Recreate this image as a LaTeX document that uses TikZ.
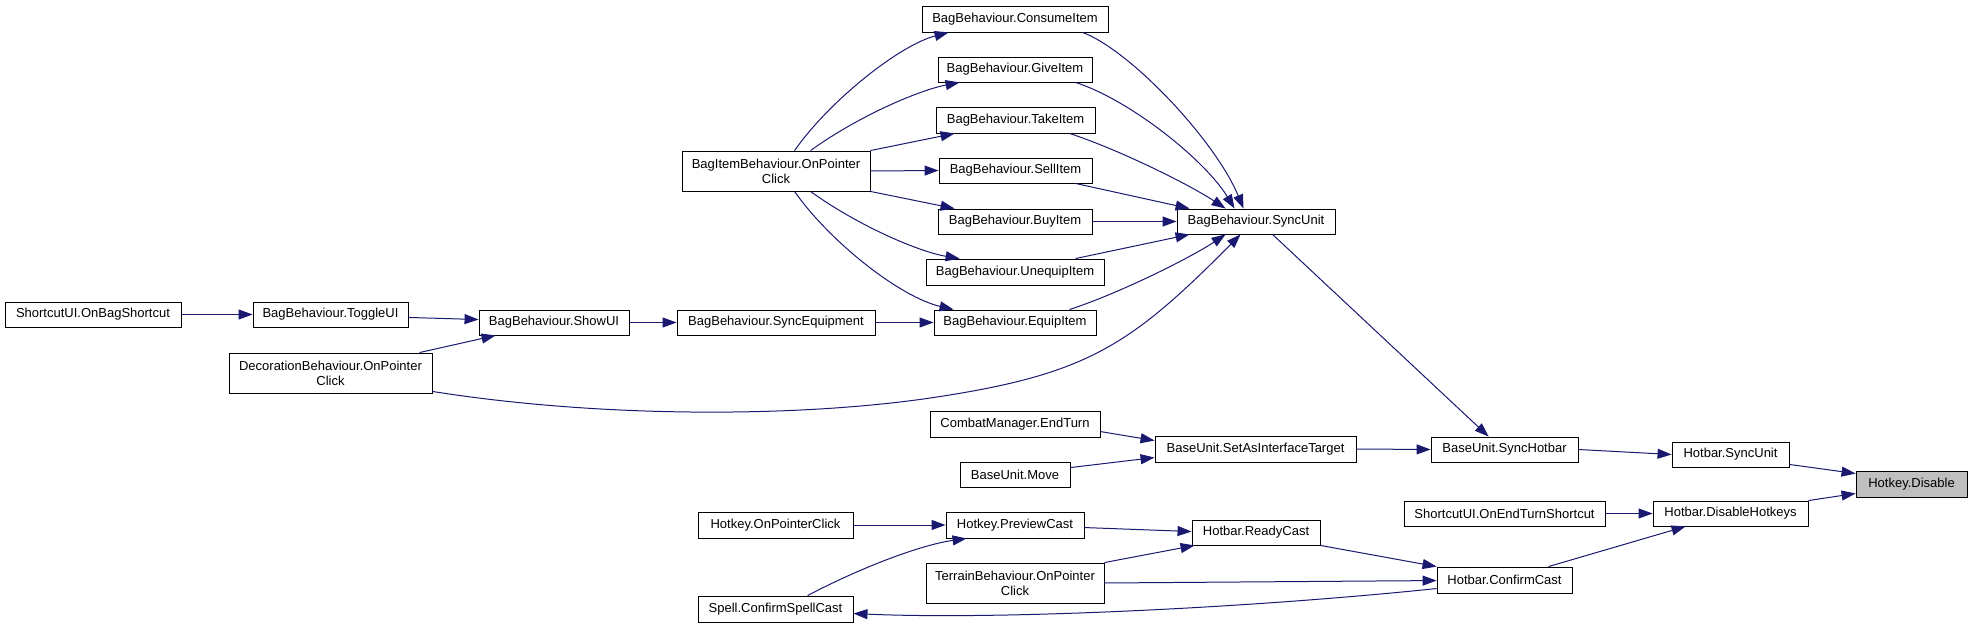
\documentclass[tikz,border=0pt]{standalone}
\usepackage{fontspec}
\setmainfont{Liberation Sans}
\usetikzlibrary{arrows.meta,calc}
\definecolor{edgec}{HTML}{191970}
\definecolor{hilite}{HTML}{BFBFBF}
\tikzset{
  box/.style={draw=black, line width=0.9pt, fill=white, inner sep=0pt, align=center,
    font=\fontsize{13}{15}\selectfont},
  callarrow/.style={draw=edgec, line width=1pt, -{Triangle[length=14pt,width=10pt]}},
}
\newcommand\bx[7][]{\node[box,#1,minimum width={(#5-#3)*1pt},minimum height={(#6-#4)*1pt}] (#2) at ({(#3+#5)/2},{(#4+#6)/2}) {#7};}
\begin{document}
\begin{tikzpicture}[x=1pt,y=-1pt]
\useasboundingbox (0,0) rectangle (1972,628);
% nodes
\bx{sbs}{5}{302}{181}{327}{ShortcutUI.OnBagShortcut}
\bx{tog}{253}{302}{408}{327}{BagBehaviour.ToggleUI}
\bx{show}{479}{310}{629}{335}{BagBehaviour.ShowUI}
\bx{deco}{229}{353}{432}{393}{DecorationBehaviour.OnPointer\\Click}
\bx{cons}{922}{6}{1108}{32}{BagBehaviour.ConsumeItem}
\bx{give}{938}{57}{1092}{82}{BagBehaviour.GiveItem}
\bx{take}{936}{107}{1095}{133}{BagBehaviour.TakeItem}
\bx{sell}{939}{158}{1092}{183}{BagBehaviour.SellItem}
\bx{buy}{938}{209}{1092}{234}{BagBehaviour.BuyItem}
\bx{uneq}{926}{259}{1104}{285}{BagBehaviour.UnequipItem}
\bx{equip}{934}{310}{1096}{335}{BagBehaviour.EquipItem}
\bx{bagitem}{682}{151}{870}{191}{BagItemBehaviour.OnPointer\\Click}
\bx{syneq}{677}{310}{875}{335}{BagBehaviour.SyncEquipment}
\bx{bsync}{1177}{209}{1335}{234}{BagBehaviour.SyncUnit}
\bx{cmend}{930}{411}{1100}{437}{CombatManager.EndTurn}
\bx{setas}{1155}{436}{1356}{462}{BaseUnit.SetAsInterfaceTarget}
\bx{move}{960}{462}{1070}{487}{BaseUnit.Move}
\bx{shotbar}{1431}{437}{1578}{462}{BaseUnit.SyncHotbar}
\bx{hsync}{1672}{442}{1789}{467}{Hotbar.SyncUnit}
\bx[fill=hilite]{disable}{1856}{471}{1967}{497}{Hotkey.Disable}
\bx{endturn}{1404}{501}{1605}{526}{ShortcutUI.OnEndTurnShortcut}
\bx{dishk}{1653}{501}{1808}{526}{Hotbar.DisableHotkeys}
\bx{hkclick}{698}{512}{853}{538}{Hotkey.OnPointerClick}
\bx{preview}{946}{512}{1084}{538}{Hotkey.PreviewCast}
\bx{ready}{1192}{520}{1320}{545}{Hotbar.ReadyCast}
\bx{terrain}{926}{563}{1104}{603}{TerrainBehaviour.OnPointer\\Click}
\bx{spell}{698}{596}{853}{622}{Spell.ConfirmSpellCast}
\bx{confirm}{1437}{567}{1572}{593}{Hotbar.ConfirmCast}
% edges
\draw[callarrow] (sbs.east) -- (tog.west);
\draw[callarrow] ($(tog.south east)+(0,-10)$) -- ($(show.north west)+(0,10)$);
\draw[callarrow] ($(deco.north west)+(191,0)$) -- ($(show.south west)+(17,0)$);
\draw[callarrow] (show.east) -- (syneq.west);
\draw[callarrow] (syneq.east) -- (equip.west);
% BagItem fan
\draw[callarrow] ($(bagitem.north west)+(113,0)$) .. controls (830,100) and (900,45) .. ($(cons.south west)+(27,0)$);
\draw[callarrow] ($(bagitem.north west)+(129,0)$) .. controls (860,115) and (920,90) .. ($(give.south west)+(22,0)$);
\draw[callarrow] (bagitem.north east) -- ($(take.south west)+(19,0)$);
\draw[callarrow] (bagitem.east) -- (sell.west);
\draw[callarrow] (bagitem.south east) -- ($(buy.north west)+(17,0)$);
\draw[callarrow] ($(bagitem.south west)+(129,0)$) .. controls (860,227) and (920,252) .. ($(uneq.north west)+(34,0)$);
\draw[callarrow] ($(bagitem.south west)+(113,0)$) .. controls (830,242) and (900,297) .. ($(equip.north west)+(20,0)$);
% to BagBehaviour.SyncUnit
\draw[callarrow] ($(cons.south west)+(161,0)$) .. controls (1130,50) and (1215,140) .. ($(bsync.north west)+(67,0)$);
\draw[callarrow] ($(give.south west)+(138,0)$) .. controls (1130,100) and (1205,160) .. ($(bsync.north west)+(58,0)$);
\draw[callarrow] ($(take.south west)+(134,0)$) .. controls (1120,150) and (1190,185) .. ($(bsync.north west)+(49,0)$);
\draw[callarrow] ($(sell.south west)+(137,0)$) -- ($(bsync.north west)+(13,0)$);
\draw[callarrow] (buy.east) -- (bsync.west);
\draw[callarrow] ($(uneq.north west)+(150,0)$) -- ($(bsync.south west)+(13,0)$);
\draw[callarrow] ($(equip.north west)+(136,0)$) .. controls (1120,293) and (1190,258) .. ($(bsync.south west)+(49,0)$);
\draw[callarrow] ($(deco.south east)+(0,-2)$) .. controls (600,418) and (800,418) .. (937,397)
   .. controls (1087,374) and (1130,346) .. ($(bsync.south west)+(64,0)$);
\draw[callarrow] ($(bsync.south west)+(96,0)$) -- ($(shotbar.north west)+(58,0)$);
% SetAsInterfaceTarget
\draw[callarrow] ($(cmend.north east)+(0,21)$) -- ($(setas.north west)+(0,5)$);
\draw[callarrow] ($(move.north east)+(0,6)$) -- ($(setas.north west)+(0,22)$);
\draw[callarrow] (setas.east) -- (shotbar.west);
\draw[callarrow] (shotbar.east) -- (hsync.west);
\draw[callarrow] ($(hsync.south east)+(0,-3)$) -- ($(disable.north west)+(0,3)$);
\draw[callarrow] (dishk.north east) -- ($(disable.south west)+(0,-4)$);
\draw[callarrow] (endturn.east) -- (dishk.west);
\draw[callarrow] ($(confirm.north west)+(112,0)$) -- ($(dishk.south west)+(33,0)$);
% cast chain
\draw[callarrow] (hkclick.east) -- (preview.west);
\draw[callarrow] ($(spell.north west)+(110,0)$) .. controls (860,568) and (920,545) .. ($(preview.south west)+(21,0)$);
\draw[callarrow] ($(preview.north east)+(0,16)$) -- ($(ready.north west)+(0,12)$);
\draw[callarrow] (terrain.north east) -- ($(ready.south west)+(3,0)$);
\draw[callarrow] (ready.south east) -- (confirm.north west);
\draw[callarrow] (terrain.east) -- ($(confirm.north west)+(0,14)$);
\draw[callarrow] ($(confirm.north west)+(0,22)$) .. controls (1250,608) and (1000,620) .. ($(spell.north east)+(0,18)$);
\end{tikzpicture}
\end{document}
